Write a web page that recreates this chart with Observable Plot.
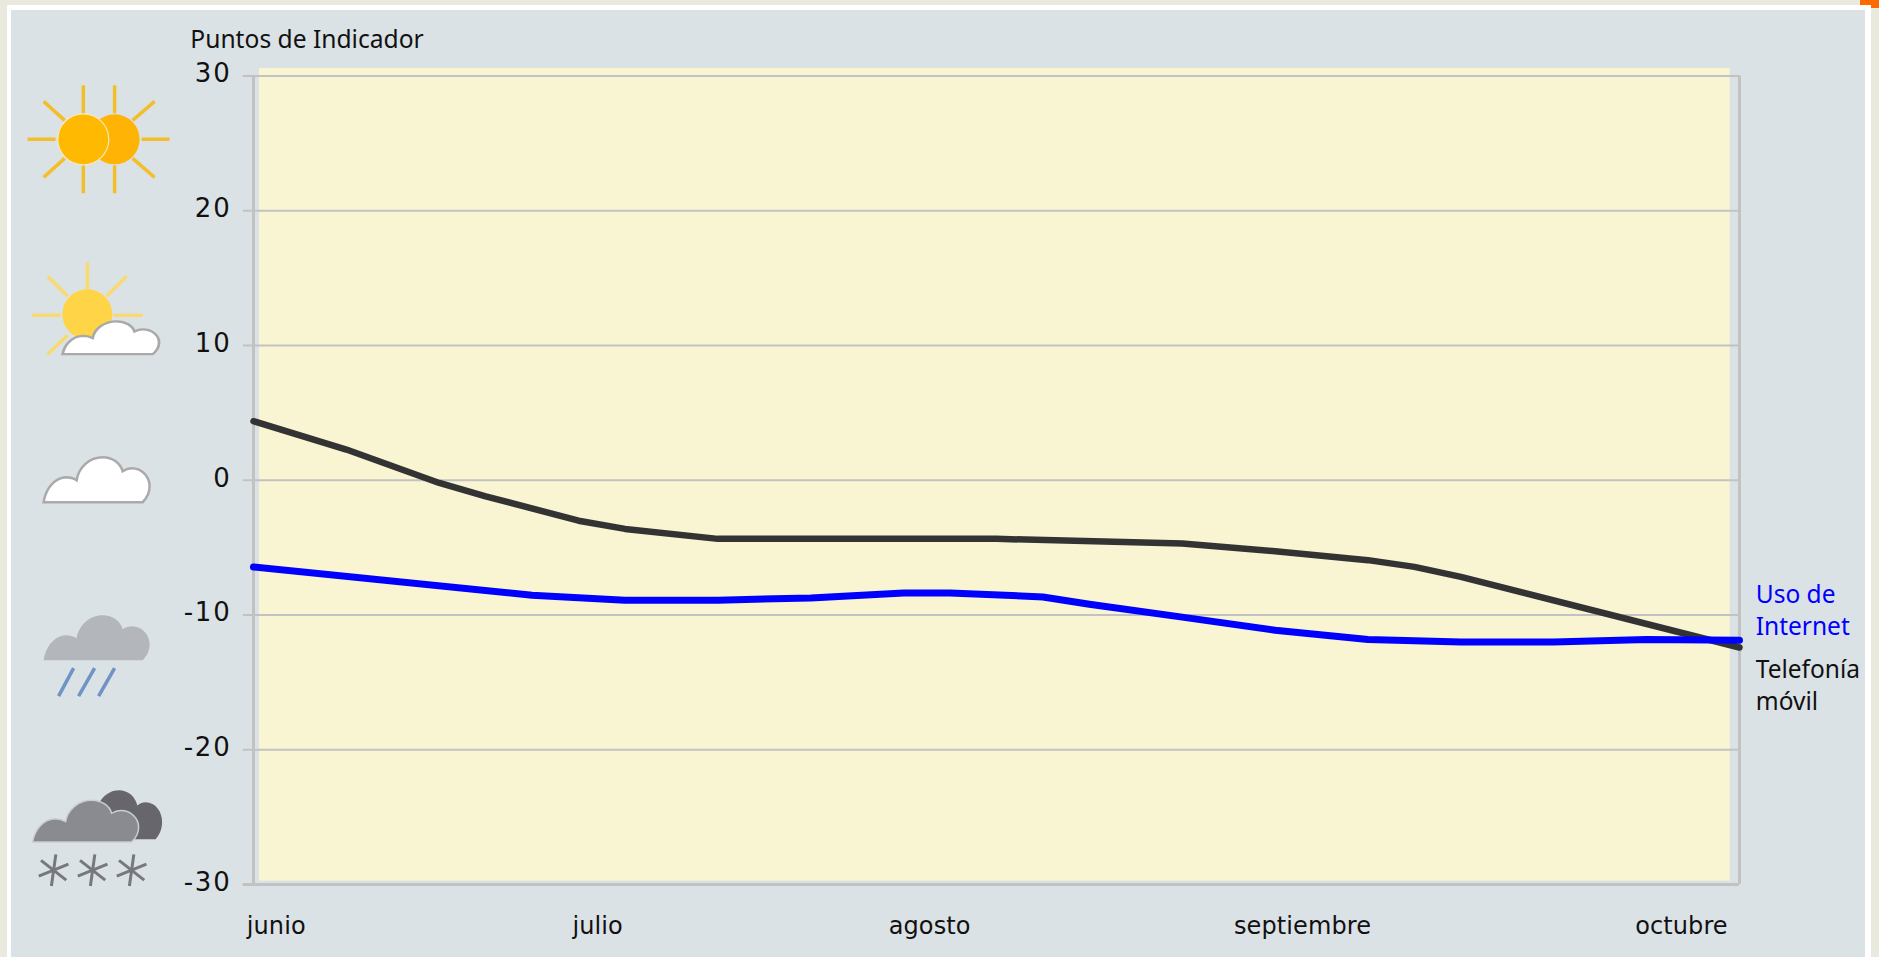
<!DOCTYPE html>
<html lang="es">
<head>
<meta charset="utf-8">
<title>Puntos de Indicador</title>
<script src="https://cdn.jsdelivr.net/npm/d3@7"></script>
<script src="https://cdn.jsdelivr.net/npm/@observablehq/plot@0.6"></script>
<style>
  html, body { margin: 0; padding: 0; width: 1879px; height: 957px; overflow: hidden; background: #e9e9dd; }
  #frame { position: absolute; left: 7px; top: 5px; width: 1864px; height: 952px; background: #fff; }
  #panel { position: absolute; left: 11px; top: 10px; width: 1854px; height: 947px; background: #dbe2e6; }
  #c1 { position: absolute; left: 1860px; top: 0; width: 19px; height: 5px; background: #ff6a00; }
  #c2 { position: absolute; left: 1871px; top: 0; width: 8px; height: 8px; background: #ff6a00; }
  #chart { position: absolute; left: 0; top: 0; }
  #chart svg { display: block; }
  #chart g[aria-label="y-axis tick label"] text { letter-spacing: 1.8px; }
  #chart g[aria-label="x-axis tick label"] text { letter-spacing: 0.1px; }
</style>
</head>
<body>
<div id="frame"></div><div id="panel"></div><div id="c1"></div><div id="c2"></div>
<div id="chart"></div>
<script>
// Data (x = step along the period, y = indicator points)
const movilSteps = [0, 2, 4, 5, 7, 8, 10, 16, 20, 22, 24, 25, 26, 32];
const movilValues = [4.38, 2.28, -0.2, -1.19, -3.0, -3.61, -4.35, -4.35, -4.7, -5.27, -5.93, -6.43, -7.17, -12.41];
const internetSteps = [0, 6, 8, 10, 12, 14, 15, 17, 18, 20, 22, 24, 26, 28, 30, 32];
const internetValues = [-6.43, -8.53, -8.9, -8.9, -8.73, -8.36, -8.36, -8.66, -9.2, -10.16, -11.13, -11.82, -12, -12, -11.82, -11.87];
const yTicks = [30, 20, 10, 0, -10, -20, -30];
const monthNames = ["junio", "julio", "agosto", "septiembre", "octubre"];
const monthSteps = [0.49, 7.41, 14.56, 22.59, 30.75];

const toRows = (xs, ys) => xs.map((x, i) => ({x, y: ys[i]}));

// Weather icons (decoration)
const cloud = "M0,45 C2,32 10,21 22,20 C26,20 30,21 33,23 C35,10 46,0 59,0 C69,0 77,6 79,14 C82,12 85,11 88,11 C99,11 106,20 106,29 C106,36 103,41 99,45 Z";
const rays = (list, color) => list.map(r => `<line x1="${r[0]}" y1="${r[1]}" x2="${r[2]}" y2="${r[3]}" stroke="${color}" stroke-width="3.5"/>`).join("");
const star = (cx, cy) => [0, 60, 120].map(a => `<line x1="${cx}" y1="${cy - 16}" x2="${cx}" y2="${cy + 16}" stroke="#77787c" stroke-width="3" transform="rotate(${a + 8} ${cx} ${cy})"/>`).join("");
const iconBodies = [
  rays([[27,139,55,139],[141,139,169,139],[82.7,85,82.7,113],[82.7,165,82.7,193],[114,85,114,113],[114,165,114,193],[43,101,64,120],[154,101,132,120],[43,177,64,158],[154,177,132,158]], "#f3be2c") +
    `<circle cx="114" cy="139" r="25" fill="#ffb405"/><circle cx="82.7" cy="139" r="25.5" fill="#ffb900" stroke="#f6e9bb" stroke-width="1.2"/>`,
  rays([[86.7,262,86.7,290],[31,315,60,315],[113,315,142,315],[47,276,67,296],[126,276,106,296],[47,354,67,335]], "#f9da70") +
    `<circle cx="86.7" cy="314" r="25" fill="#ffd447"/><path d="${cloud}" transform="translate(62,321) scale(.91,.73)" fill="#fff" stroke="#a9a9a9" stroke-width="3"/>`,
  `<path d="${cloud}" transform="translate(43,457) scale(1,1)" fill="#fff" stroke="#aaa" stroke-width="2.5"/>`,
  `<path d="${cloud}" transform="translate(43,615)" fill="#b3b6ba"/>` +
    rays([[58,696,73,668],[78,696,94,668],[98,696,114,668]], "#6f93c4"),
  `<path d="${cloud}" transform="translate(64,790) scale(.92,1.09)" fill="#66666c"/>` +
    `<path d="${cloud}" transform="translate(32,800) scale(1,.93)" fill="#8a8b90" stroke="#c9ced2" stroke-width="1.5"/>` +
    star(53, 870) + star(92, 870) + star(131, 870)
];
const iconCentres = [139, 315, 480, 655, 825];
const iconLevels = [25.3, 12.24, 0, -12.98, -25.6];
const iconRows = iconBodies.map((body, i) => ({
  level: iconLevels[i],
  src: "data:image/svg+xml," + encodeURIComponent(
    `<svg xmlns="http://www.w3.org/2000/svg" width="180" height="140" viewBox="5 ${iconCentres[i] - 70} 180 140">${body}</svg>`)
}));

const sideLabels = [
  {text: "Uso de", y: -8.5, color: "#0000ff"},
  {text: "Internet", y: -10.88, color: "#0000ff"},
  {text: "Telefonía", y: -14.1, color: "#111"},
  {text: "móvil", y: -16.5, color: "#111"}
];

const grey = "#c2c2c2";
const textFont = "'Noto Sans', sans-serif";
const tickFont = "'DejaVu Sans', sans-serif";

const chart = Plot.plot({
  width: 1879,
  height: 957,
  marginLeft: 253,
  marginRight: 140,
  marginTop: 75.5,
  marginBottom: 73,
  style: {background: "transparent", fontFamily: tickFont},
  x: {domain: [0, 32]},
  y: {domain: [-30, 30]},
  marks: [
    Plot.rect([{}], {x1: 0.13, x2: 31.8, y1: 30.56, y2: -29.75, fill: "#f9f5d3"}),
    Plot.ruleY(yTicks, {x1: -0.22, x2: 32, stroke: grey, strokeWidth: 2.2}),
    Plot.ruleX([0, 32], {y1: -30, y2: 30, stroke: grey, strokeWidth: 3}),
    Plot.ruleY([-30], {x1: -0.22, x2: 32, stroke: grey, strokeWidth: 3}),
    Plot.axisY({
      ticks: yTicks, tickSize: 0, tickPadding: 22, label: null, fontSize: 26, dy: -2,
      tickFormat: d => String(d), fill: "#111", stroke: "none"
    }),
    Plot.axisX({
      ticks: monthSteps, tickSize: 0, tickPadding: 32, label: null, fontSize: 24,
      tickFormat: d => monthNames[monthSteps.indexOf(d)], fill: "#111", stroke: "none"
    }),
    Plot.line(toRows(movilSteps, movilValues), {x: "x", y: "y", stroke: "#333333", strokeWidth: 6.5, strokeLinecap: "round", strokeLinejoin: "round"}),
    Plot.line(toRows(internetSteps, internetValues), {x: "x", y: "y", stroke: "#0000ff", strokeWidth: 7, strokeLinecap: "round", strokeLinejoin: "round"}),
    Plot.text(sideLabels, {
      x: 32.35, y: "y", text: "text", fill: "color", textAnchor: "start",
      fontSize: 24.5, fontFamily: textFont
    }),
    Plot.text(["Puntos de Indicador"], {
      x: -1.36, y: 32.65, text: d => d, textAnchor: "start", fill: "#111",
      fontSize: 24.6, fontFamily: textFont
    }),
    Plot.image(iconRows, {x: -3.4, y: "level", src: "src", width: 180, height: 140})
  ]
});
document.getElementById("chart").append(chart);
</script>
</body>
</html>
